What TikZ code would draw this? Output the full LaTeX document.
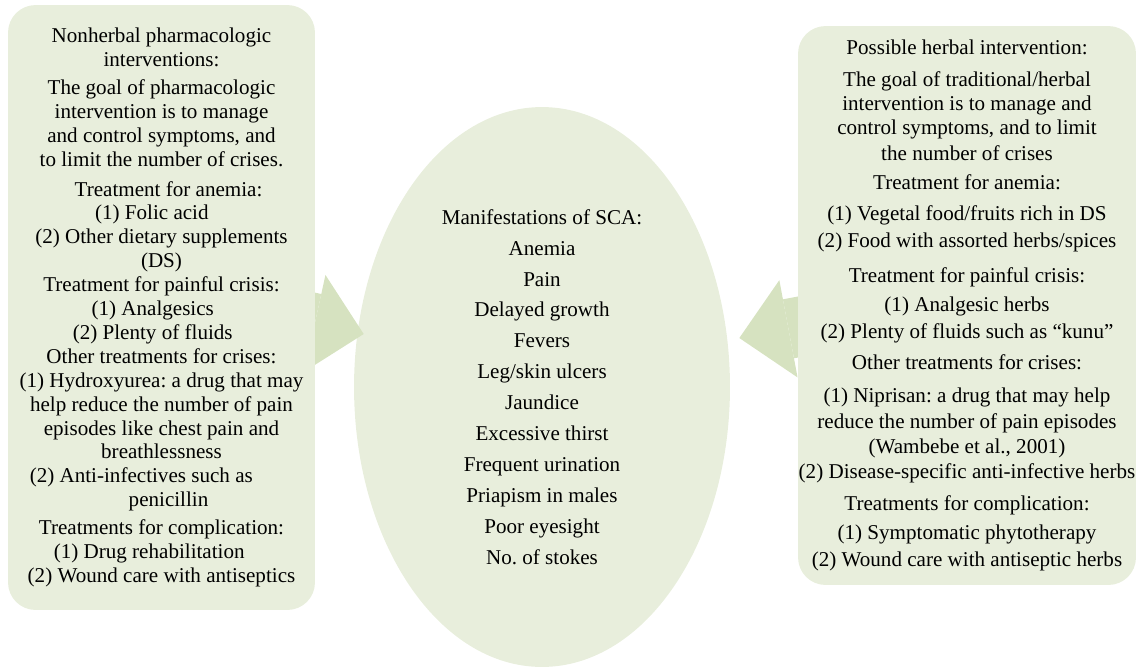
\documentclass[tikz,border=0pt]{standalone}
\usepackage{fontspec}
\setmainfont{Liberation Serif}
\usetikzlibrary{arrows.meta, shapes.geometric}
\definecolor{panelGreen}{RGB}{232,238,220}
\definecolor{arrowGreen}{RGB}{214,226,192}
\pgfdeclarelayer{back}
\pgfdeclarelayer{arrows}
\pgfsetlayers{back,arrows,main}
\frenchspacing

\begin{document}
\begin{tikzpicture}[x=0.02cm, y=-0.02cm,
    panel/.style={fill=panelGreen, rounded corners=0.55cm, inner sep=0pt, align=center,
      font=\fontsize{12}{13.6}\selectfont},
    bigarrow/.style={draw=arrowGreen, line width=1.2cm,
      -{Triangle[length=1cm, width=1.98cm, line width=0pt]}}]
  \useasboundingbox (0,0) rectangle (1138,667);
  % Manifestations of SCA (centre)
  \begin{pgfonlayer}{back}
    \node[ellipse, fill=panelGreen, minimum width=7.52cm, minimum height=11.2cm, inner sep=0pt,
      align=center, font=\fontsize{12}{17.6}\selectfont] (sca) at (542,387)
      {Manifestations of SCA:\\ Anemia\\ Pain\\ Delayed growth\\ Fevers\\ Leg/skin ulcers\\
       Jaundice\\ Excessive thirst\\ Frequent urination\\ Priapism in males\\ Poor eyesight\\
       No. of stokes};
  \end{pgfonlayer}
  % Nonherbal pharmacologic side
  \node[panel, minimum width=6.14cm, minimum height=12.1cm] (lbox) at (161.5,307.5)
    {Nonherbal pharmacologic\\ interventions:\\[2.3pt]
     The goal of pharmacologic\\ intervention is to manage\\ and control symptoms, and\\
     to limit the number of crises.\\[3.4pt]
     \hspace*{8pt}Treatment for anemia:\\ \hspace*{-11pt}(1) Folic acid\\
     (2) Other dietary supplements\\ (DS)\\ Treatment for painful crisis:\\
     \hspace*{-10pt}(1) Analgesics\\ \hspace*{-10pt}(2) Plenty of fluids\\
     Other treatments for crises:\\ (1) Hydroxyurea: a drug that may\\
     help reduce the number of pain\\ episodes like chest pain and\\ breathlessness\\
     \hspace*{-23pt}(2) Anti-infectives such as\\ \hspace*{8pt}penicillin\\[2.3pt]
     Treatments for complication:\\ \hspace*{-14pt}(1) Drug rehabilitation\\
     (2) Wound care with antiseptics};
  % Possible herbal side
  \node[panel, minimum width=6.76cm, minimum height=11.18cm] (rbox) at (967,305.5)
    {Possible herbal intervention:\\[5pt]
     The goal of traditional/herbal\\ intervention is to manage and\\
     control symptoms, and to limit\\[1pt] the number of crises\\[3pt]
     Treatment for anemia:\\[4pt] (1) Vegetal food/fruits rich in DS\\[2pt]
     (2) Food with assorted herbs/spices\\[6pt]
     Treatment for painful crisis:\\[3pt] (1) Analgesic herbs\\[2pt]
     (2) Plenty of fluids such as “kunu”\\[4pt]
     Other treatments for crises:\\[5pt] (1) Niprisan: a drug that may help\\[1pt]
     reduce the number of pain episodes\\[1pt] (Wambebe et al., 2001)\\[0.5pt]
     (2) Disease-specific anti-infective herbs\\[4.5pt]
     Treatments for complication:\\[3pt] (1) Symptomatic phytotherapy\\[2pt]
     (2) Wound care with antiseptic herbs};
  % Block arrows into the ellipse
  \begin{pgfonlayer}{arrows}
    \draw[bigarrow] ([shift={(-68,1)}]lbox.east) -- ([shift={(10,-53)}]sca.west);
    \draw[bigarrow] ([shift={(59,10.5)}]rbox.west) -- ([shift={(9,-49)}]sca.east);
  \end{pgfonlayer}
\end{tikzpicture}
\end{document}
